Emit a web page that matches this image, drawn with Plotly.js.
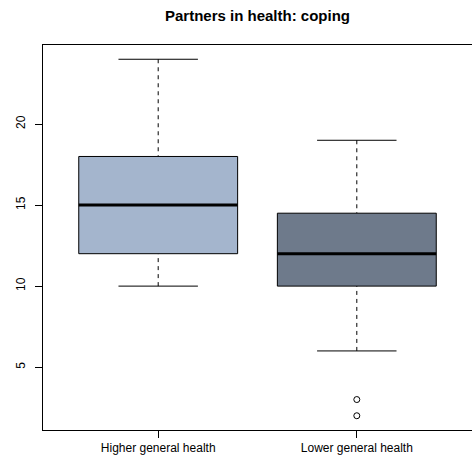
<!DOCTYPE html>
<html>
<head>
<meta charset="utf-8">
<script src="https://cdn.plot.ly/plotly-3.0.1.min.js"></script>
<style>
html, body { margin: 0; padding: 0; overflow: hidden; background: #ffffff; }
#chart { width: 472px; height: 463px; }
</style>
</head>
<body>
<div id="chart"></div>
<script>
// ---- Data ----
const categories = ["Higher general health", "Lower general health"];
const lowerWhisker = [10, 6];
const q1 = [12, 10];
const median = [15, 12];
const q3 = [18, 14.5];
const upperWhisker = [24, 19];
const outliers = [[], [3, 2]];
const yTicks = [5, 10, 15, 20];

// ---- Styles ----
const fillColors = ["#a4b5cd", "#6e7a8b"];
const FONT = "Liberation Sans, Arial, Helvetica, sans-serif";
const boxHalf = 0.4;
const capHalf = 0.2;

const traces = [];
const base = { type: "scatter", mode: "lines", hoverinfo: "skip", showlegend: false };

categories.forEach((cat, i) => {
  const c = i + 1;
  // dashed whiskers
  traces.push(Object.assign({}, base, {
    x: [c, c], y: [upperWhisker[i], q3[i]],
    line: { color: "#000000", width: 1, dash: "4px,4px" }
  }));
  traces.push(Object.assign({}, base, {
    x: [c, c], y: [lowerWhisker[i], q1[i]],
    line: { color: "#000000", width: 1, dash: "4px,4px" }
  }));
  // whisker caps
  traces.push(Object.assign({}, base, {
    x: [c - capHalf, c + capHalf], y: [upperWhisker[i], upperWhisker[i]],
    line: { color: "#000000", width: 1 }
  }));
  traces.push(Object.assign({}, base, {
    x: [c - capHalf, c + capHalf], y: [lowerWhisker[i], lowerWhisker[i]],
    line: { color: "#000000", width: 1 }
  }));
  // box
  traces.push(Object.assign({}, base, {
    x: [c - boxHalf, c + boxHalf, c + boxHalf, c - boxHalf, c - boxHalf],
    y: [q1[i], q1[i], q3[i], q3[i], q1[i]],
    fill: "toself", fillcolor: fillColors[i],
    line: { color: "#000000", width: 1 }
  }));
  // median
  traces.push(Object.assign({}, base, {
    x: [c - boxHalf, c + boxHalf], y: [median[i], median[i]],
    line: { color: "#000000", width: 3 }
  }));
  // outliers
  if (outliers[i].length) {
    traces.push({
      type: "scatter", mode: "markers", hoverinfo: "skip", showlegend: false,
      x: outliers[i].map(() => c), y: outliers[i],
      marker: { symbol: "circle-open", size: 6, color: "#000000", line: { width: 1 } }
    });
  }
});

const layout = {
  width: 472, height: 463,
  margin: { l: 43, r: 0, t: 45, b: 33, pad: 0 },
  paper_bgcolor: "#ffffff", plot_bgcolor: "#ffffff",
  font: { family: FONT, color: "#000000", size: 12 },
  title: {
    text: "Partners in health: coping",
    font: { family: FONT, size: 15, weight: "bold", color: "#000000" },
    x: 0.5, xref: "paper", xanchor: "center",
    y: 1 - 16 / 463, yref: "container", yanchor: "middle"
  },
  xaxis: {
    range: [0.42, 2.58],
    tickvals: categories.map((_, i) => i + 1),
    ticktext: categories,
    ticks: "outside", ticklen: 7, tickwidth: 1, tickcolor: "#000000",
    showline: true, linecolor: "#000000", linewidth: 1, mirror: true,
    showgrid: false, zeroline: false,
    tickfont: { family: FONT, size: 12, color: "#000000" }
  },
  yaxis: {
    range: [1.12, 24.88],
    tickvals: yTicks,
    ticktext: yTicks.map(String),
    tickangle: -90,
    ticks: "outside", ticklen: 7, tickwidth: 1, tickcolor: "#000000",
    ticklabelstandoff: 5,
    showline: true, linecolor: "#000000", linewidth: 1, mirror: false,
    showgrid: false, zeroline: false,
    tickfont: { family: FONT, size: 12, color: "#000000" }
  }
};

Plotly.newPlot("chart", traces, layout, { displayModeBar: false, staticPlot: true });
</script>
</body>
</html>
